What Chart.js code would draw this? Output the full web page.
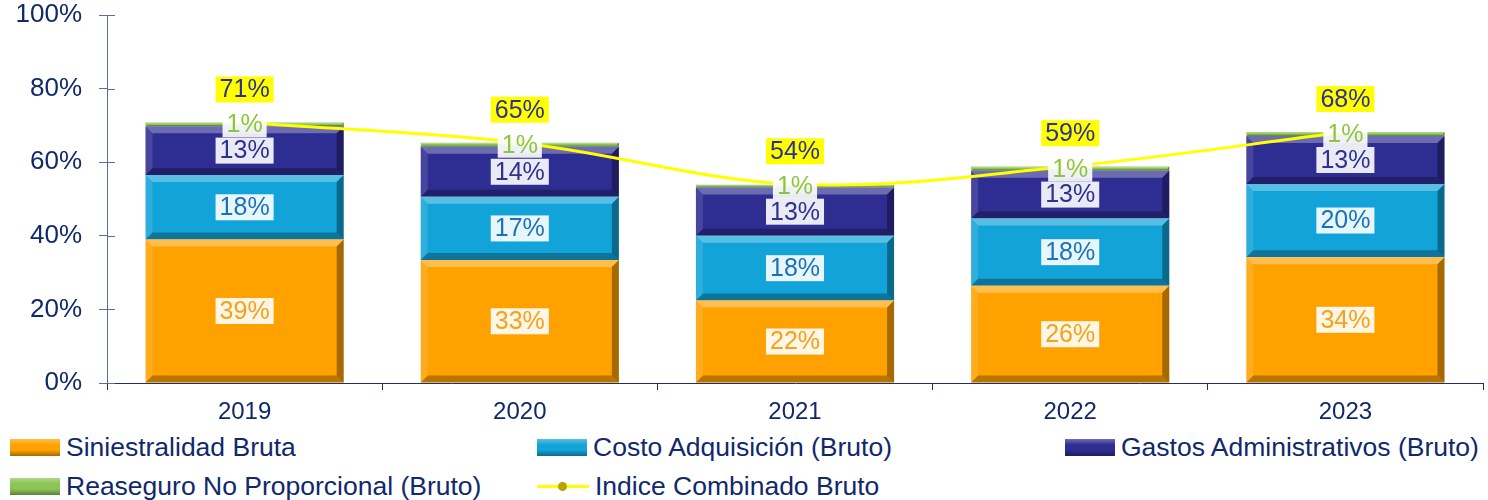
<!DOCTYPE html>
<html>
<head>
<meta charset="utf-8">
<script src="https://cdn.jsdelivr.net/npm/chart.js@4.4.1/dist/chart.umd.min.js"></script>
<style>
  body { margin: 0; background: #fff; font-family: "Liberation Sans", Arial, sans-serif; }
  #wrap { position: relative; width: 1488px; height: 500px; }
  #grafico { position: absolute; left: 0; top: 0; }
  .leg { position: absolute; display: flex; align-items: center; font-size: 26.5px; color: #10296b; white-space: nowrap; }
  .leg .caja { width: 50px; height: 17px; margin-right: 6px; box-sizing: border-box; }
  .leg .linea { width: 52px; height: 17px; margin-right: 6px; position: relative; }
  .leg .linea:before { content: ""; position: absolute; left: 0; right: 0; top: 7px; height: 3px; background: #ffff00; }
  .leg .linea:after { content: ""; position: absolute; left: 21px; top: 4px; width: 9px; height: 9px; border-radius: 50%; background: #b8a400; }
</style>
</head>
<body>
<div id="wrap">
  <canvas id="grafico" width="1488" height="425"></canvas>
  <div id="leyenda"></div>
</div>
<script>
// Datos (en %)
const years = ['2019', '2020', '2021', '2022', '2023'];
const siniestralidad = [39.0, 33.4, 22.4, 26.4, 34.2];
const costoAdq = [17.5, 17.2, 17.6, 18.3, 19.9];
const gastosAdm = [13.3, 13.6, 13.1, 13.0, 13.0];
const reaseguro = [1.0, 1.1, 0.8, 1.1, 1.1];
const indice = [70.8, 65.3, 54.0, 58.9, 68.2];
const yTicks = [0, 20, 40, 60, 80, 100];

const azulTexto = '#10296b';

// efecto "3D" de Excel sobre cada barra
const bisel = {
  id: 'bisel',
  afterDatasetDraw(chart, args) {
    if (args.meta.type !== 'bar') return;
    const ctx = chart.ctx;
    for (const el of args.meta.data) {
      const l = el.x - el.width / 2, r = el.x + el.width / 2;
      const t = Math.min(el.y, el.base), b = Math.max(el.y, el.base);
      const e = Math.min(7, (b - t) / 3);
      if (e <= 0) continue;
      ctx.save();
      const lado = (pts, col) => {
        ctx.beginPath();
        ctx.moveTo(pts[0][0], pts[0][1]);
        for (const p of pts.slice(1)) ctx.lineTo(p[0], p[1]);
        ctx.closePath();
        ctx.fillStyle = col;
        ctx.fill();
      };
      lado([[l, t], [r, t], [r - e, t + e], [l + e, t + e]], 'rgba(255,255,255,0.3)');
      lado([[l, b], [r, b], [r - e, b - e], [l + e, b - e]], 'rgba(0,0,0,0.28)');
      lado([[r, t], [r, b], [r - e, b - e], [r - e, t + e]], 'rgba(0,0,0,0.35)');
      lado([[l, t], [l, b], [l + e, b - e], [l + e, t + e]], 'rgba(255,255,255,0.12)');
      ctx.restore();
    }
  }
};

// etiquetas de datos con recuadro
const etiquetas = {
  id: 'etiquetas',
  afterDatasetsDraw(chart) {
    const ctx = chart.ctx;
    ctx.save();
    ctx.font = '25px "Liberation Sans", Arial, sans-serif';
    ctx.textAlign = 'center';
    ctx.textBaseline = 'middle';
    chart.data.datasets.forEach((ds, i) => {
      const meta = chart.getDatasetMeta(i);
      meta.data.forEach((el, j) => {
        const txt = Math.round(ds.data[j]) + '%';
        const w = ctx.measureText(txt).width + 8;
        const h = 26;
        let cx = el.x, cy;
        let fondo;
        if (meta.type === 'bar') {
          cy = (el.y + el.base) / 2;
          fondo = 'rgba(255,255,255,0.9)';
        } else {
          cy = el.y - 33;
          fondo = '#ffff00';
        }
        ctx.fillStyle = fondo;
        ctx.fillRect(cx - w / 2, cy - h / 2, w, h);
        ctx.fillStyle = ds.labelColor;
        ctx.fillText(txt, cx, cy + 1);
      });
    });
    ctx.restore();
  }
};

// marcas del eje Y hacia dentro
const marcasY = {
  id: 'marcasY',
  afterDraw(chart) {
    const y = chart.scales.y;
    const ctx = chart.ctx;
    ctx.save();
    ctx.strokeStyle = '#5b6e9c';
    ctx.lineWidth = 1;
    for (const v of yTicks) {
      const py = Math.round(y.getPixelForValue(v)) + 0.5;
      ctx.beginPath();
      ctx.moveTo(y.right, py);
      ctx.lineTo(y.right + 8, py);
      ctx.stroke();
    }
    ctx.restore();
  }
};

const ctx = document.getElementById('grafico').getContext('2d');
const chart = new Chart(ctx, {
  data: {
    labels: years,
    datasets: [
      { type: 'bar', label: 'Siniestralidad Bruta', data: siniestralidad, backgroundColor: '#ffa200', labelColor: '#f7a11a', stack: 'a', order: 1 },
      { type: 'bar', label: 'Costo Adquisición (Bruto)', data: costoAdq, backgroundColor: '#12a3d8', labelColor: '#1b72b8', stack: 'a', order: 1 },
      { type: 'bar', label: 'Gastos Administrativos (Bruto)', data: gastosAdm, backgroundColor: '#2e2d92', labelColor: '#2e3192', stack: 'a', order: 1 },
      { type: 'bar', label: 'Reaseguro No Proporcional (Bruto)', data: reaseguro, backgroundColor: '#8cc456', labelColor: '#8cc63f', stack: 'a', order: 1 },
      { type: 'line', label: 'Indice Combinado Bruto', data: indice, borderColor: '#ffff00', borderWidth: 3, pointRadius: 0, tension: 0.35, labelColor: '#2e3192', stack: 'b', order: 0 }
    ]
  },
  options: {
    responsive: false,
    animation: false,
    layout: { padding: { top: 15, right: 5, left: 0, bottom: 0 } },
    datasets: { bar: { categoryPercentage: 1, barPercentage: 0.72, borderWidth: 0 } },
    plugins: { legend: { display: false }, tooltip: { enabled: false } },
    scales: {
      x: {
        stacked: true,
        grid: { display: true, drawOnChartArea: false, tickLength: 7, color: '#1f2f6a', offset: true },
        border: { color: '#1f2f6a', width: 1 },
        ticks: { color: azulTexto, font: { size: 24, family: '"Liberation Sans", Arial' }, padding: 8 },
        afterFit(s) { s.height = 42; s.paddingLeft = 0; s.paddingRight = 0; }
      },
      y: {
        stacked: true,
        min: 0,
        max: 100,
        afterBuildTicks(s) { s.ticks = yTicks.map(v => ({ value: v })); },
        grid: { display: true, drawOnChartArea: false, tickLength: 8, color: '#5b6e9c' },
        border: { color: '#5b6e9c', width: 1 },
        ticks: { color: azulTexto, font: { size: 26, family: '"Liberation Sans", Arial' }, padding: 17, callback: v => v + '%' },
        afterFit(s) { s.width = 107; s.paddingTop = 0; s.paddingBottom = 0; }
      }
    }
  },
  plugins: [bisel, etiquetas, marcasY]
});

// leyenda en tres columnas
const posLeyenda = [
  [10, 432], [537, 432], [1065, 432],
  [10, 471], [537, 471]
];
const leyenda = document.getElementById('leyenda');
chart.data.datasets.forEach((ds, i) => {
  const item = document.createElement('div');
  item.className = 'leg';
  item.style.left = posLeyenda[i][0] + 'px';
  item.style.top = posLeyenda[i][1] + 'px';
  const marca = document.createElement('span');
  if (ds.type === 'bar') {
    marca.className = 'caja';
    marca.style.background = 'linear-gradient(to bottom, rgba(255,255,255,0.3), ' + ds.backgroundColor + ' 35%, ' + ds.backgroundColor + ' 65%, rgba(0,0,0,0.35))';
    marca.style.backgroundColor = ds.backgroundColor;
  } else {
    marca.className = 'linea';
  }
  const txt = document.createElement('span');
  txt.textContent = ds.label;
  item.appendChild(marca);
  item.appendChild(txt);
  leyenda.appendChild(item);
});
</script>
</body>
</html>
